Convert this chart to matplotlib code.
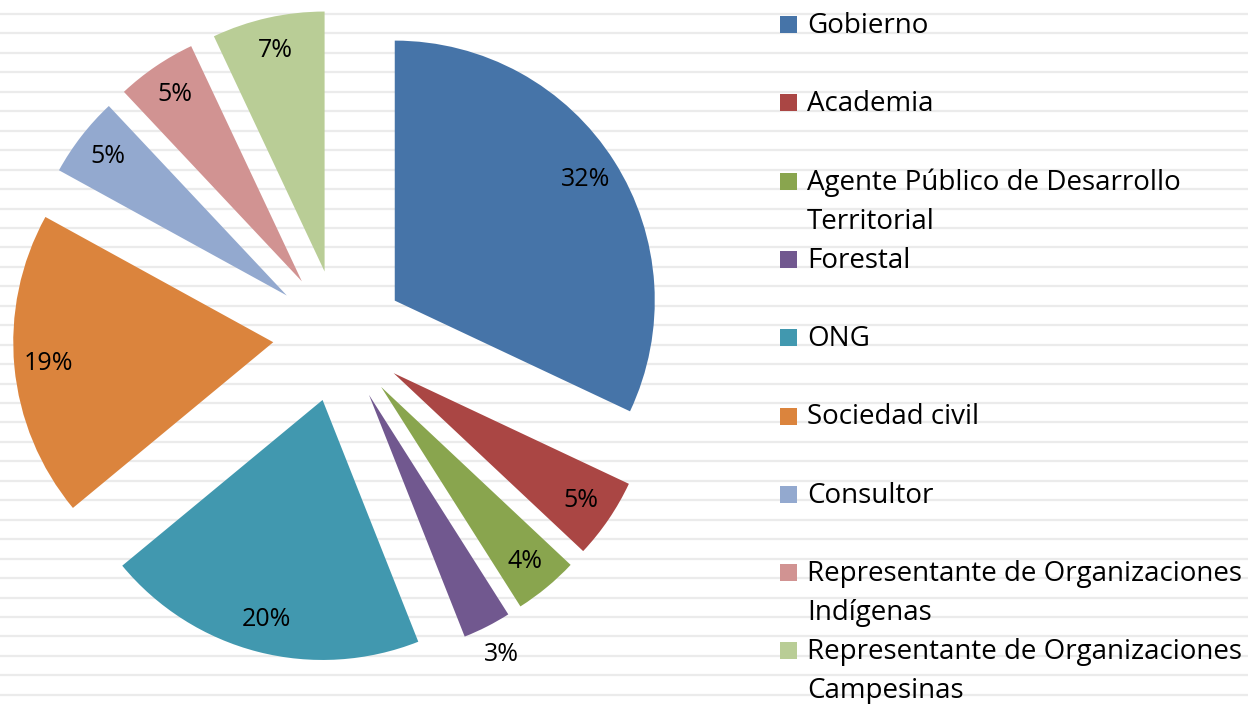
import numpy as np
import matplotlib
matplotlib.use('Agg')
import matplotlib.pyplot as plt
from matplotlib.patches import Rectangle

categories = ["Gobierno", "Academia", "Agente Público de Desarrollo\nTerritorial", "Forestal",
              "ONG", "Sociedad civil", "Consultor",
              "Representante de Organizaciones\nIndígenas",
              "Representante de Organizaciones\nCampesinas"]
values = [32, 5, 4, 3, 20, 19, 5, 5, 7]
colors = ["#4674A8", "#AA4644", "#89A54E", "#71588F", "#4198AF",
          "#DB843D", "#93A9CF", "#D19392", "#B9CD96"]

W, H = 1248, 704
FONT = "Open Sans"

fig = plt.figure(figsize=(W / 100, H / 100), dpi=100)

# striped background
bg = fig.add_axes([0, 0, 1, 1])
bg.set_xlim(0, W)
bg.set_ylim(H, 0)
bg.axis('off')
for y in np.arange(14, H, 19.45):
    bg.axhline(y, color="#ebebeb", lw=1.6, zorder=1)

# pie axes: center at (339, 336) px, radius 260 px
cx, cy, R = 339, 336, 260
S = 336
ax = fig.add_axes([(cx - S) / W, (H - cy - S) / H, 2 * S / W, 2 * S / H])
ax.axis('off')

explode = [0.254] * len(values)
wedges, _ = ax.pie(values, colors=colors, startangle=90, counterclock=False,
                   explode=explode, radius=1.0)
ax.set_xlim(-S / R, S / R)
ax.set_ylim(-S / R, S / R)

total = sum(values)
for w, v in zip(wedges, values):
    ang = np.deg2rad((w.theta1 + w.theta2) / 2)
    dist = 0.254 + (1.12 if v <= 3 else 0.87)
    ax.text(dist * np.cos(ang), dist * np.sin(ang), f"{round(100 * v / total)}%",
            ha='center', va='center', fontsize=18, family=FONT, color='black')

# legend
y0, step, lstep = 24, 78.3, 39
for i, (lab, c) in enumerate(zip(categories, colors)):
    y = y0 + step * i
    bg.add_patch(Rectangle((780, y - 8), 17, 17, color=c, lw=0, zorder=3))
    for k, line in enumerate(lab.split("\n")):
        bg.text(807, y + 2 + lstep * k, line, ha='left', va='center',
                fontsize=20, family=FONT, color='black', zorder=3)

fig.savefig("out.png", dpi=100)
